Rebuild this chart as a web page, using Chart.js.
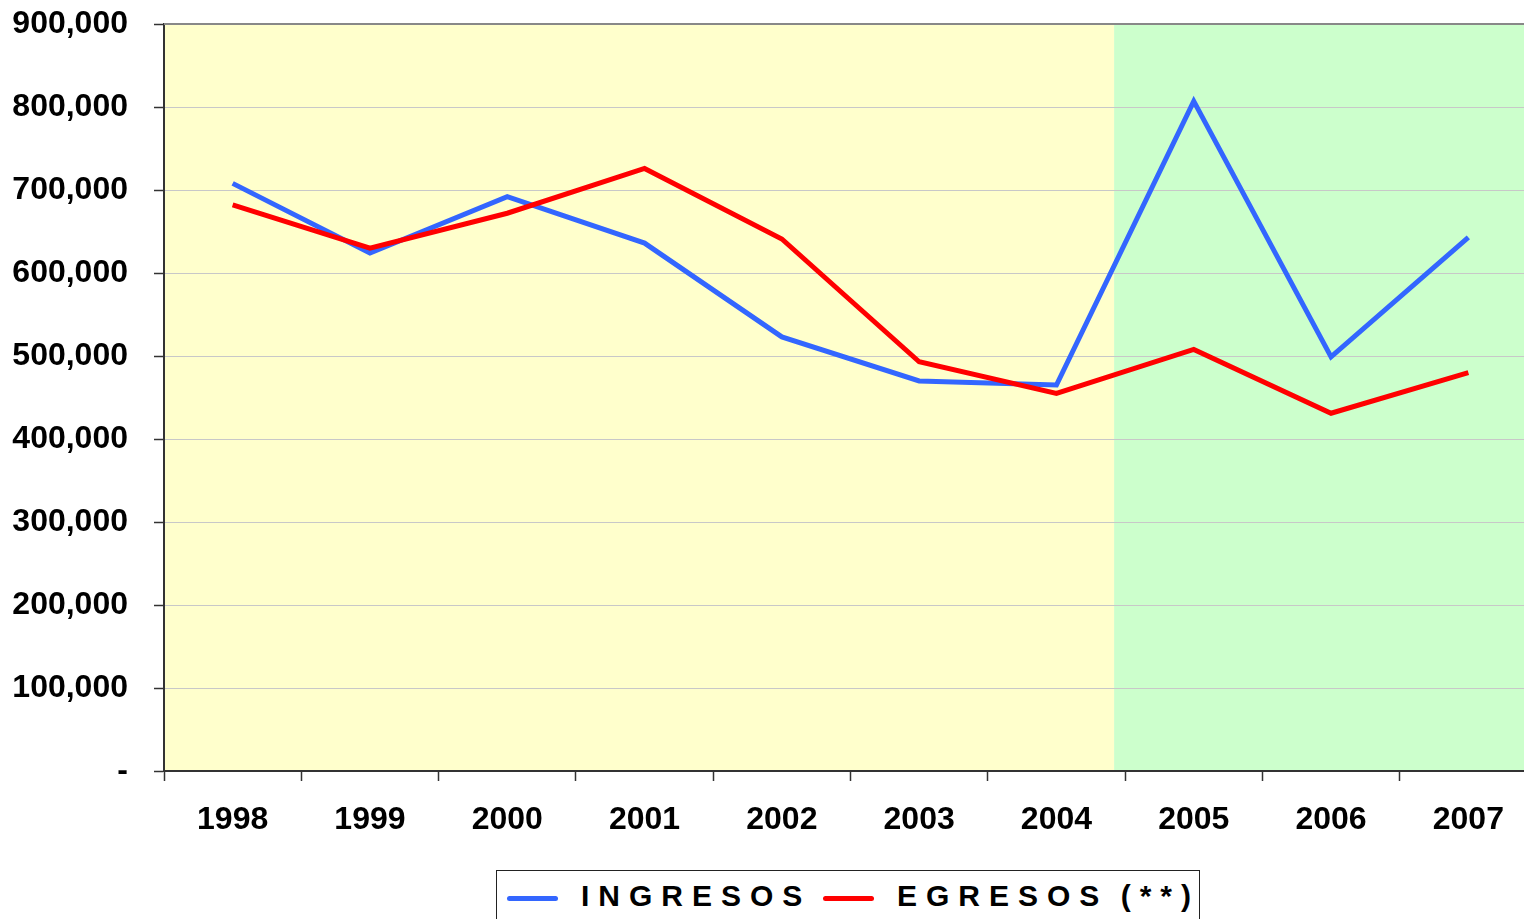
<!DOCTYPE html>
<html>
<head>
<meta charset="utf-8">
<script src="https://cdn.jsdelivr.net/npm/chart.js@4.4.1/dist/chart.umd.min.js"></script>
<style>
  html, body { margin: 0; padding: 0; background: #fff; overflow: hidden; width: 1524px; height: 919px; }
  #wrap { position: absolute; left: 0; top: 0; width: 1540px; height: 860px; }
  #legend {
    position: absolute; left: 496px; top: 870px; width: 704px; height: 70px;
    border: 1px solid #222; box-sizing: border-box; background: #fff;
    font-family: "Liberation Sans", Arial, sans-serif; font-weight: bold; font-size: 30px;
    color: #000; white-space: nowrap;
  }
  .item { position: absolute; top: 7px; height: 36px; display: flex; align-items: center; white-space: nowrap; }
  .swatch { display: inline-block; width: 51px; height: 5px; border-radius: 3px; margin-right: 23px; margin-top: 4px; }
  .txt { letter-spacing: 9px; word-spacing: -5px; display: inline-block; }
</style>
</head>
<body>
<div id="wrap"><canvas id="c"></canvas></div>
<div id="legend"></div>
<script>
// datos
const years = ['1998', '1999', '2000', '2001', '2002', '2003', '2004', '2005', '2006', '2007'];
const ingresos = [708000, 624000, 692000, 636000, 523000, 470000, 465000, 807000, 499000, 643000];
const egresos = [682000, 630000, 672000, 726000, 641000, 493000, 455000, 508000, 431000, 480000];
const seriesNames = ['INGRESOS', 'EGRESOS (**)'];
const seriesColors = ['#3366FF', '#FF0000'];
const yMax = 900000;
const yStep = 100000;
// zona verde empieza un poco antes del limite 2004/2005
const shadeFrom = 6.42;

const bgPlugin = {
    id: 'bgZones',
    beforeDraw(chart) {
        const { ctx, chartArea: a, scales } = chart;
        const xs = scales.x.getPixelForValue(shadeFrom);
        ctx.save();
        ctx.fillStyle = '#FFFFCC';
        ctx.fillRect(a.left, a.top, xs - a.left, a.bottom - a.top);
        ctx.fillStyle = '#CCFFCC';
        ctx.fillRect(xs, a.top, a.right - xs, a.bottom - a.top);
        ctx.restore();
    },
    afterDraw(chart) {
        // borde superior gris del area de trazado
        const { ctx, chartArea: a } = chart;
        ctx.save();
        ctx.strokeStyle = '#888888';
        ctx.lineWidth = 2;
        ctx.beginPath();
        ctx.moveTo(a.left, a.top);
        ctx.lineTo(a.right, a.top);
        ctx.stroke();
        ctx.restore();
    }
};

const font = { family: '"Liberation Sans", Arial, sans-serif', size: 32, weight: 'bold' };

new Chart(document.getElementById('c'), {
    type: 'line',
    data: {
        labels: years,
        datasets: [ingresos, egresos].map((d, i) => ({
            label: seriesNames[i],
            data: d,
            borderColor: seriesColors[i],
            backgroundColor: seriesColors[i],
            borderWidth: 5,
            pointRadius: 0,
            tension: 0,
            borderJoinStyle: 'miter',
            order: i === 0 ? 2 : 1
        }))
    },
    options: {
        responsive: true,
        maintainAspectRatio: false,
        animation: false,
        layout: { padding: { top: 24, right: 3, left: 0, bottom: 0 } },
        plugins: { legend: { display: false }, tooltip: { enabled: false } },
        scales: {
            x: {
                offset: true,
                grid: { offset: true, drawOnChartArea: false, tickLength: 10, tickColor: '#333', tickWidth: 1.5 },
                border: { color: '#333', width: 2 },
                ticks: { color: '#000', font: font, padding: 20, maxRotation: 0 },
                afterFit(s) { s.height = 89; }
            },
            y: {
                min: 0,
                max: yMax,
                ticks: {
                    stepSize: yStep,
                    color: '#000',
                    font: font,
                    padding: 26,
                    callback: v => v === 0 ? '-' : v.toLocaleString('en-US')
                },
                grid: { color: '#c8c8c8', lineWidth: 1, tickLength: 10, tickColor: '#333', tickWidth: 1.5 },
                border: { color: '#333', width: 2 },
                afterFit(s) {
                    s.width = 164;
                    s.paddingTop = 0;
                    s.paddingBottom = 0;
                }
            }
        }
    },
    plugins: [bgPlugin]
});

// leyenda en HTML para poder espaciar las letras
const legend = document.getElementById('legend');
const lefts = [10, 326];
seriesNames.forEach((n, i) => {
    const it = document.createElement('div');
    it.className = 'item';
    it.style.left = lefts[i] + 'px';
    it.innerHTML = '<span class="swatch" style="background:' + seriesColors[i] + '"></span><span class="txt">' + n + '</span>';
    legend.appendChild(it);
});
</script>
</body>
</html>
